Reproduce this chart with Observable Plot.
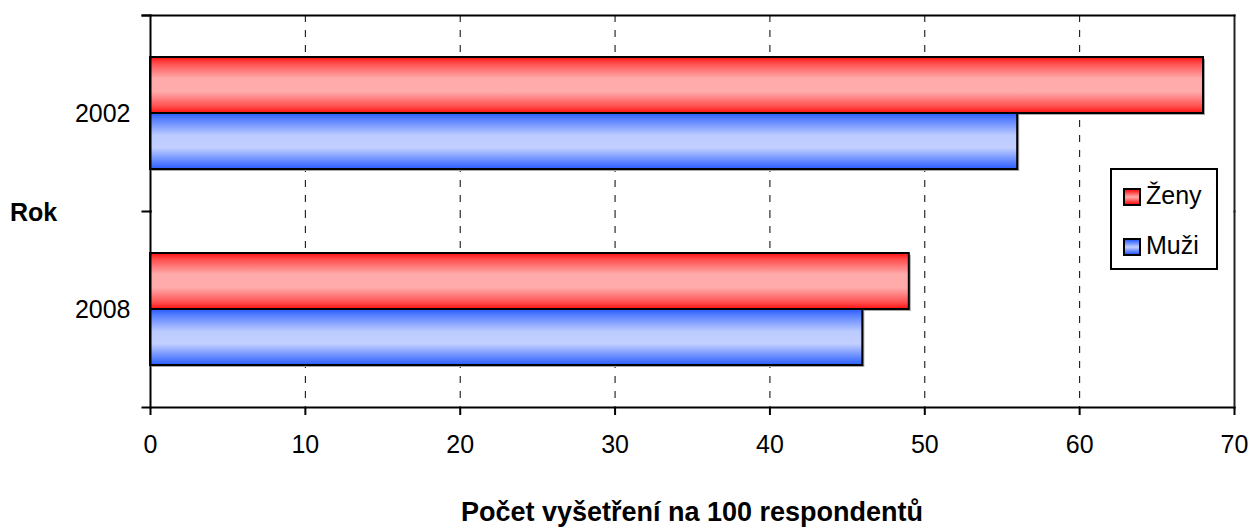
<!DOCTYPE html>
<html><head><meta charset="utf-8">
<script src="https://cdn.jsdelivr.net/npm/d3@7"></script>
<script src="https://cdn.jsdelivr.net/npm/@observablehq/plot@0.6"></script>
<style>
body{margin:0;background:#fff;font-family:"Liberation Sans",Arial,sans-serif;color:#000;}
#wrap{position:relative;width:1251px;height:529px;overflow:hidden;}
#wrap svg{position:absolute;left:0;top:0;}
.ylab{position:absolute;left:10px;top:200px;font-weight:bold;font-size:25px;line-height:25px;}
.xlab{position:absolute;left:150px;width:1084px;top:499px;text-align:center;font-weight:bold;font-size:27px;line-height:27px;white-space:nowrap;}
.legend{position:absolute;left:1110px;top:168px;width:104px;height:98px;border:2px solid #000;background:#fff;}
.item{position:absolute;left:11px;font-size:25px;line-height:25px;white-space:nowrap;}
.sw{display:inline-block;width:14px;height:14px;border:2px solid #000;vertical-align:top;margin-top:5px;margin-right:5px;}
</style></head><body><div id="wrap"></div>
<script>
// ---- data ----
const years = ["2002", "2008"];
const series = ["Ženy", "Muži"];
const zeny = [68, 49];
const muzi = [56, 46];
const xTicks = [0, 10, 20, 30, 40, 50, 60, 70];
const gridTicks = [10, 20, 30, 40, 50, 60];
const xTitle = "Počet vyšetření na 100 respondentů";
const yTitle = "Rok";

const rows = years.flatMap((y, i) => [
  {year: y, sex: series[0], value: zeny[i]},
  {year: y, sex: series[1], value: muzi[i]}
]);

const W = 1251, H = 529, mL = 150, mR = 17, mT = 15, mB = 122;
const plotW = W - mL - mR;

const chart = Plot.plot({
  width: W, height: H,
  marginLeft: mL, marginRight: mR, marginTop: mT, marginBottom: mB,
  style: {fontFamily: "Liberation Sans, Arial, sans-serif", background: "transparent", overflow: "visible"},
  x: {domain: [0, 70]},
  y: {domain: series, paddingInner: 0, paddingOuter: 0.735, axis: null},
  fy: {domain: years, padding: 0},
  marks: [
    Plot.gridX(gridTicks, {stroke: "black", strokeOpacity: 1, strokeWidth: 1, strokeDasharray: "7,8"}),
    Plot.barX(rows, {x: "value", y: "sex", fy: "year", fill: "#a8a8a8", dx: 2, dy: 2}),
    Plot.barX(rows, {filter: d => d.sex === series[0], x: "value", y: "sex", fy: "year", fill: "url(#gZ)", stroke: "black", strokeWidth: 2}),
    Plot.barX(rows, {filter: d => d.sex === series[1], x: "value", y: "sex", fy: "year", fill: "url(#gM)", stroke: "black", strokeWidth: 2}),
    Plot.frame({anchor: "left", stroke: "black", strokeWidth: 2}),
    Plot.frame({anchor: "right", stroke: "#222", strokeWidth: 2}),
    Plot.frame({anchor: "top", facetAnchor: "top", insetLeft: -8, stroke: "black", strokeWidth: 2}),
    Plot.frame({anchor: "top", insetLeft: -8, insetRight: plotW, stroke: "black", strokeWidth: 2}),
    Plot.frame({anchor: "bottom", facetAnchor: "bottom", insetLeft: -8, stroke: "black", strokeWidth: 2}),
    Plot.axisX({ticks: xTicks, tickSize: 8, tickPadding: 20, fontSize: 25, label: null, facetAnchor: "bottom", strokeWidth: 2}),
    Plot.axisFy({anchor: "left", tickSize: 0, tickPadding: 20, fontSize: 25, label: null})
  ]
});

// gradient definitions referenced by the bar fills
const defs = d3.select(chart).insert("defs", ":first-child");
function grad(id, stops) {
  const g = defs.append("linearGradient").attr("id", id)
    .attr("x1", 0).attr("y1", 0).attr("x2", 0).attr("y2", 1);
  stops.forEach(([o, c]) => g.append("stop").attr("offset", o).attr("stop-color", c));
}
grad("gZ", [[0, "#ff1010"], [0.12, "#ff5050"], [0.38, "#ffabab"], [0.62, "#ffabab"], [0.88, "#ff5050"], [1, "#ff1010"]]);
grad("gM", [[0, "#2a5cff"], [0.12, "#5a82ff"], [0.4, "#bccbff"], [0.62, "#c2cfff"], [0.88, "#5a82ff"], [1, "#2a5cff"]]);

const wrap = document.getElementById("wrap");
wrap.appendChild(chart);

const yl = document.createElement("div"); yl.className = "ylab"; yl.textContent = yTitle; wrap.appendChild(yl);
const xl = document.createElement("div"); xl.className = "xlab"; xl.textContent = xTitle; wrap.appendChild(xl);

const lg = document.createElement("div"); lg.className = "legend";
const fills = ["linear-gradient(#ff1010,#ffabab,#ff1010)", "linear-gradient(#2a5cff,#c2cfff,#2a5cff)"];
const tops = [13, 63];
series.forEach((s, i) => {
  const it = document.createElement("div"); it.className = "item"; it.style.top = tops[i] + "px";
  const sw = document.createElement("span"); sw.className = "sw"; sw.style.background = fills[i];
  it.appendChild(sw); it.appendChild(document.createTextNode(s));
  lg.appendChild(it);
});
wrap.appendChild(lg);
</script></body></html>
